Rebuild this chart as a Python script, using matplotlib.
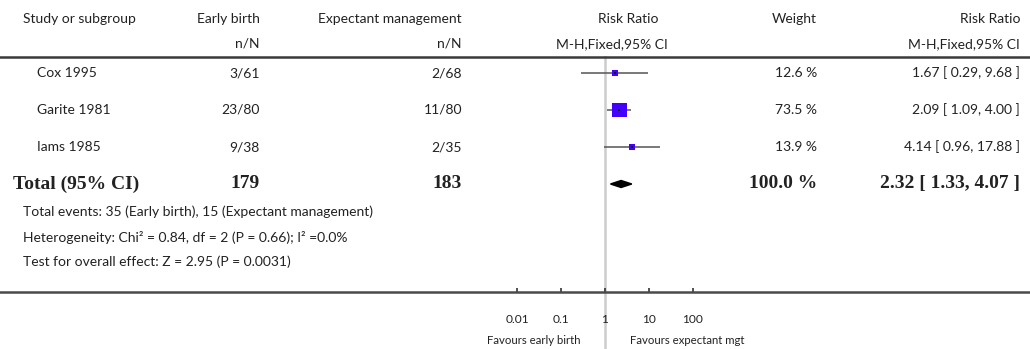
import numpy as np
import matplotlib.pyplot as plt
from matplotlib import transforms

# study data
studies = ["Cox 1995", "Garite 1981", "Iams 1985"]
early = ["3/61", "23/80", "9/38"]
expectant = ["2/68", "11/80", "2/35"]
rr = [1.67, 2.09, 4.14]
lo = [0.29, 1.09, 0.96]
hi = [9.68, 4.00, 17.88]
weight = [12.6, 73.5, 13.9]

total_early, total_exp = 179, 183
total_rr, total_lo, total_hi = 2.32, 1.33, 4.07

notes = ["Total events: 35 (Early birth), 15 (Expectant management)",
         "Heterogeneity: Chi² = 0.84, df = 2 (P = 0.66); I² =0.0%",
         "Test for overall effect: Z = 2.95 (P = 0.0031)"]
ticks = [0.01, 0.1, 1, 10, 100]
tick_labels = ["0.01", "0.1", "1", "10", "100"]

W, H = 1030, 349
plt.rcParams['font.family'] = ['Lato', 'DejaVu Sans']
TXT = '#222222'
FS = 10

fig = plt.figure(figsize=(W / 100, H / 100), dpi=100)
# forest axes: from header line (y=57px) to scale line (y=292px), full width
top, bot = 57, 292
ax = fig.add_axes([0, 1 - bot / H, 1, (bot - top) / H])
ax.set_xscale('log')
# 1 at 605px, 44px per decade
ax.set_xlim(10 ** (-605 / 44), 10 ** ((W - 605) / 44))
row_h = 37.0
ax.set_ylim((bot - 73) / row_h, (top - 73) / row_h)

for s in ['left', 'right']:
    ax.spines[s].set_visible(False)
ax.spines['top'].set_color('#3a3a3a')
ax.spines['top'].set_linewidth(1.8)
ax.spines['bottom'].set_color('#4a4a4a')
ax.spines['bottom'].set_linewidth(1.8)
ax.set_yticks([])
ax.xaxis.set_minor_locator(plt.NullLocator())
ax.set_xticks(ticks)
ax.set_xticklabels(tick_labels, fontsize=8.6, color=TXT)
ax.tick_params(axis='x', direction='in', length=3, width=1.2, color='#333333', pad=16)

ax.axvline(1, ymin=-(H - bot) / (bot - top), ymax=1, color='#cccccc', lw=1.8,
           clip_on=False, zorder=0)

rows = np.arange(len(studies))
ax.hlines(rows, lo, hi, color='#555555', lw=1.1, zorder=2)
sizes = (1.25 * np.sqrt(weight)) ** 2
ax.scatter(rr, rows, s=sizes, marker='s', color='#4400ff', zorder=3, linewidths=0)
ax.scatter(rr, rows, s=3, marker='s', color='#111111', zorder=4, linewidths=0)

trow = len(studies)
dh = 0.095
ax.fill([total_lo, total_rr, total_hi, total_rr],
        [trow, trow - dh, trow, trow + dh], color='black', zorder=3)

# table text
bt = transforms.blended_transform_factory(ax.transAxes, ax.transData)
def col(x, y, s, ha='right', **kw):
    ax.text(x / W, y, s, transform=bt, ha=ha, va='center', color=TXT, **kw)

for i in rows:
    col(37, i, studies[i], ha='left', fontsize=FS)
    col(260, i, early[i], fontsize=FS)
    col(462, i, expectant[i], fontsize=FS)
    col(817, i, f"{weight[i]:.1f} %", fontsize=FS)
    col(1020, i, f"{rr[i]:.2f} [ {lo[i]:.2f}, {hi[i]:.2f} ]", fontsize=FS)

bold = dict(fontsize=14, fontweight='bold', family='Liberation Serif')
col(13, trow, "Total (95% CI)", ha='left', **bold)
col(260, trow, str(total_early), **bold)
col(462, trow, str(total_exp), **bold)
col(817, trow, "100.0 %", **bold)
col(1020, trow, f"{total_rr:.2f} [ {total_lo:.2f}, {total_hi:.2f} ]", **bold)

def ftext(x, y, s, ha='left', **kw):
    fig.text(x / W, 1 - y / H, s, ha=ha, va='center', color=TXT, **kw)

# header
ftext(23, 19, "Study or subgroup", fontsize=FS)
ftext(260, 19, "Early birth", ha='right', fontsize=FS)
ftext(260, 44, "n/N", ha='right', fontsize=FS)
ftext(462, 19, "Expectant management", ha='right', fontsize=FS)
ftext(462, 44, "n/N", ha='right', fontsize=FS)
ftext(628, 19, "Risk Ratio", ha='center', fontsize=FS)
ftext(612, 44, "M-H,Fixed,95% CI", ha='center', fontsize=FS)
ftext(817, 19, "Weight", ha='right', fontsize=FS)
ftext(1020, 19, "Risk Ratio", ha='right', fontsize=FS)
ftext(1020, 44, "M-H,Fixed,95% CI", ha='right', fontsize=FS)

for k, n in enumerate(notes):
    ftext(23, 212 + 25 * k, n, fontsize=FS)

ftext(534, 340, "Favours early birth", ha='center', fontsize=8.2)
ftext(687, 340, "Favours expectant mgt", ha='center', fontsize=8.2)

fig.savefig('out.png', dpi=100)
